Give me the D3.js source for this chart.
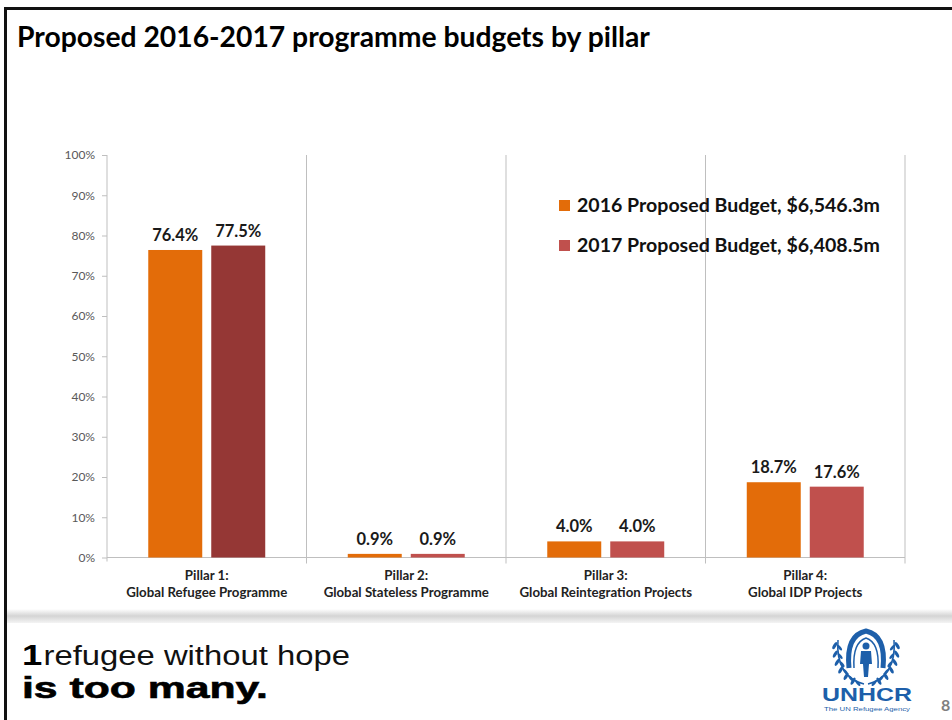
<!DOCTYPE html>
<html><head><meta charset="utf-8">
<script src="https://cdn.jsdelivr.net/npm/d3@7"></script>
<style>
html,body{margin:0;padding:0;background:#fff;}
svg{display:block;}
</style></head>
<body>
<svg id="c" width="952" height="720"></svg>
<script>
// ---------- data ----------
const pillarNames = ["Pillar 1:", "Pillar 2:", "Pillar 3:", "Pillar 4:"];
const pillarTitles = ["Global Refugee Programme", "Global Stateless Programme", "Global Reintegration Projects", "Global IDP Projects"];
const seriesNames = ["2016 Proposed Budget, $6,546.3m", "2017 Proposed Budget, $6,408.5m"];
const values2016 = [76.4, 0.9, 4.0, 18.7];
const values2017 = [77.5, 0.9, 4.0, 17.6];
const yTicks = [0, 10, 20, 30, 40, 50, 60, 70, 80, 90, 100];
const titleText = "Proposed 2016-2017 programme budgets by pillar";

// ---------- styling ----------
const FONT = "Lato, 'Open Sans', 'DejaVu Sans', sans-serif";
const HEL = "'Liberation Sans', Arial, sans-serif";
const C2016 = "#E36C09";
const C2017 = "#C0504D";
const C2017_P1 = "#953735";
const GRID = "#BFBFBF";

const svg = d3.select("#c");

function fitText(sel, w) {
  const node = sel.node();
  let fs = parseFloat(sel.attr("font-size"));
  for (let i = 0; i < 4; i++) {
    const l = node.getComputedTextLength();
    if (l <= 0) break;
    fs = fs * w / l;
    sel.attr("font-size", fs.toFixed(2));
  }
  return fs;
}

// slide frame
svg.append("rect").attr("x", 0).attr("y", 0).attr("width", 952).attr("height", 720).attr("fill", "#fff");
svg.append("line").attr("x1", 5.5).attr("x2", 5.5).attr("y1", 7).attr("y2", 720).attr("stroke", "#111").attr("stroke-width", 3);
svg.append("line").attr("x1", 4).attr("x2", 952).attr("y1", 8.5).attr("y2", 8.5).attr("stroke", "#111").attr("stroke-width", 3);

// title
fitText(svg.append("text").attr("x", 17).attr("y", 47).attr("font-family", FONT).attr("font-weight", 700)
  .attr("font-size", 25).attr("fill", "#000").text(titleText), 633);

// ---------- chart ----------
const x = d3.scaleBand().domain(d3.range(pillarNames.length)).range([107, 905]).padding(0);
const xs = d3.scaleBand().domain([0, 1]).range([0, x.bandwidth()]).paddingInner(0.143).paddingOuter(0.655);
const y = d3.scaleLinear().domain([0, 100]).range([557.5, 155]);

const g = svg.append("g");

// separators / category ticks
const seps = pillarNames.map((d, i) => x(i) + x.bandwidth());
g.selectAll("line.sep").data(seps).join("line").attr("class", "sep")
  .attr("x1", d => d).attr("x2", d => d).attr("y1", y(100)).attr("y2", y(0) + 6)
  .attr("stroke", GRID).attr("stroke-width", 1);

// y axis
const yAxis = g.append("g").attr("transform", `translate(107,0)`)
  .call(d3.axisLeft(y).tickValues(yTicks).tickFormat(d => d + "%").tickSize(5).tickSizeOuter(0).tickPadding(7));
yAxis.select(".domain").attr("stroke", GRID).attr("d", `M0,${y(100)}V${y(0) + 4}`);
yAxis.selectAll(".tick line").attr("stroke", GRID);
yAxis.selectAll(".tick text").attr("font-family", FONT).attr("font-size", 12).attr("fill", "#595959");

// x axis line
g.append("line").attr("x1", 107).attr("x2", 905).attr("y1", y(0)).attr("y2", y(0)).attr("stroke", GRID);

// bars
const rows = pillarNames.map((p, i) => [values2016[i], values2017[i]]);
const colorOf = (s, i) => s === 0 ? C2016 : (i === 0 ? C2017_P1 : C2017);
rows.forEach((vals, i) => {
  vals.forEach((v, s) => {
    g.append("rect")
      .attr("x", x(i) + xs(s)).attr("width", xs.bandwidth())
      .attr("y", y(v)).attr("height", y(0) - y(v))
      .attr("fill", colorOf(s, i));
    g.append("text")
      .attr("x", x(i) + xs(s) + xs.bandwidth() / 2).attr("y", y(v) - 9)
      .attr("text-anchor", "middle").attr("font-family", FONT).attr("font-weight", 700)
      .attr("font-size", 16.5).attr("fill", "#1a1a1a").text(v.toFixed(1) + "%");
  });
});

// category labels
const probe = g.append("text").attr("font-family", FONT).attr("font-weight", 700).attr("font-size", 12).text(pillarTitles[0]);
const catFs = fitText(probe, 161);
probe.remove();
pillarNames.forEach((p, i) => {
  const cx = x(i) + x.bandwidth() / 2;
  g.append("text").attr("x", cx).attr("y", 580).attr("text-anchor", "middle")
    .attr("font-family", FONT).attr("font-weight", 700).attr("font-size", catFs).attr("fill", "#222").text(p);
  g.append("text").attr("x", cx).attr("y", 597).attr("text-anchor", "middle")
    .attr("font-family", FONT).attr("font-weight", 700).attr("font-size", catFs).attr("fill", "#222").text(pillarTitles[i]);
});

// legend
const legColors = [C2016, C2017];
seriesNames.forEach((s, k) => {
  const ly = 206 + k * 40;
  g.append("rect").attr("x", 559).attr("y", ly - 6).attr("width", 11).attr("height", 11).attr("fill", legColors[k]);
  fitText(g.append("text").attr("x", 577).attr("y", ly + 6).attr("font-family", FONT).attr("font-weight", 700)
    .attr("font-size", 17).attr("fill", "#111").text(s), 303);
});

// ---------- footer ----------
const grad = svg.append("defs").append("linearGradient").attr("id", "band").attr("x1", 0).attr("x2", 0).attr("y1", 0).attr("y2", 1);
grad.append("stop").attr("offset", "0").attr("stop-color", "#ffffff");
grad.append("stop").attr("offset", "0.5").attr("stop-color", "#d4d4d4");
grad.append("stop").attr("offset", "1").attr("stop-color", "#f4f4f4");
svg.append("rect").attr("x", 7).attr("y", 609).attr("width", 945).attr("height", 14).attr("fill", "url(#band)");

const line1 = svg.append("text").attr("x", 22).attr("y", 665).attr("font-family", HEL)
  .attr("textLength", 328).attr("lengthAdjust", "spacingAndGlyphs").attr("fill", "#111");
line1.append("tspan").attr("font-weight", 700).attr("font-size", 30).attr("fill", "#000").text("1");
line1.append("tspan").attr("font-weight", 400).attr("font-size", 27).attr("dx", 1).text("refugee without hope");
svg.append("text").attr("x", 22).attr("y", 698).attr("font-family", HEL).attr("font-weight", 700)
  .attr("font-size", 29).attr("textLength", 246).attr("lengthAdjust", "spacingAndGlyphs").attr("fill", "#000")
  .attr("stroke", "#000").attr("stroke-width", 0.6).text("is too many.");

// UNHCR logo (simplified)
const BLUE = "#1D5FAA";
const lg = svg.append("g").attr("fill", "none").attr("stroke", BLUE);
lg.append("path").attr("d", "M849,668 C847,648 852,634 866,631 C880,634 885,648 883,668").attr("stroke-width", 5);
lg.append("path").attr("d", "M854,668 C853,652 857,641 866,638 C875,641 879,652 878,668").attr("stroke-width", 1.5);
lg.append("circle").attr("cx", 866).attr("cy", 646).attr("r", 3.5).attr("fill", BLUE).attr("stroke", "none");
lg.append("path").attr("d", "M861,651 H871 L872,664 H869 L868,677 H864 L863,664 H860 Z").attr("fill", BLUE).attr("stroke", "none");
const leftPath = lg.append("path").attr("d", "M864,684 C846,680 836,664 838,640").attr("stroke-width", 1.5).node();
const rightPath = lg.append("path").attr("d", "M868,684 C886,680 896,664 894,640").attr("stroke-width", 1.5).node();
const leafT = [0.15, 0.3, 0.45, 0.6, 0.75, 0.9];
[leftPath, rightPath].forEach((pth, side) => {
  const L = pth.getTotalLength();
  leafT.forEach(t => {
    const p = pth.getPointAtLength(L * t);
    const off = side === 0 ? -3 : 3;
    lg.append("ellipse").attr("cx", p.x + off).attr("cy", p.y).attr("rx", 1.6).attr("ry", 4)
      .attr("transform", `rotate(${side === 0 ? 30 : -30},${p.x + off},${p.y})`)
      .attr("fill", BLUE).attr("stroke", "none");
    lg.append("ellipse").attr("cx", p.x - off * 0.6).attr("cy", p.y + 2).attr("rx", 1.4).attr("ry", 3.5)
      .attr("transform", `rotate(${side === 0 ? -40 : 40},${p.x - off * 0.6},${p.y + 2})`)
      .attr("fill", BLUE).attr("stroke", "none");
  });
});
svg.append("text").attr("x", 822).attr("y", 701).attr("font-family", HEL).attr("font-weight", 700)
  .attr("font-size", 18).attr("textLength", 90).attr("lengthAdjust", "spacingAndGlyphs").attr("fill", BLUE).text("UNHCR");
svg.append("text").attr("x", 824).attr("y", 711).attr("font-family", HEL)
  .attr("font-size", 5).attr("textLength", 86).attr("lengthAdjust", "spacingAndGlyphs").attr("fill", BLUE).text("The UN Refugee Agency");

svg.append("text").attr("x", 941).attr("y", 711).attr("font-family", FONT).attr("font-weight", 700)
  .attr("font-size", 16).attr("fill", "#7F7F7F").text("8");
</script>
</body></html>
